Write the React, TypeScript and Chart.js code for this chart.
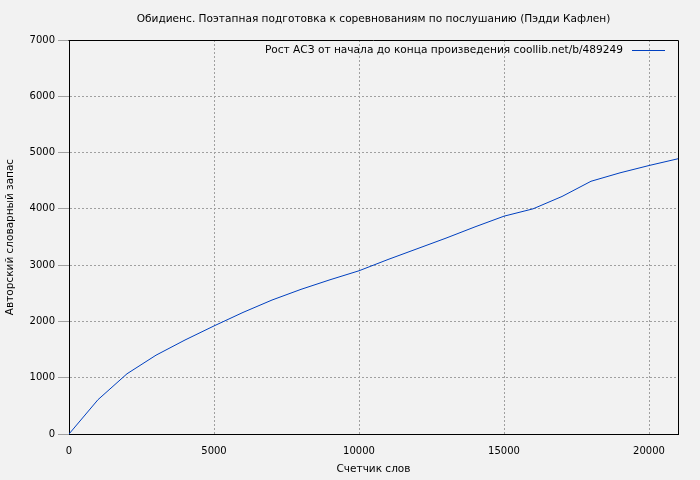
import React, { useEffect, useRef } from "react";
import { Chart, registerables } from "chart.js";

Chart.register(...registerables);

const TITLE = "Обидиенс. Поэтапная подготовка к соревнованиям по послушанию (Пэдди Кафлен)";
const LEGEND_LABEL = "Рост АСЗ от начала до конца произведения coollib.net/b/489249";
const X_TITLE = "Счетчик слов";
const Y_TITLE = "Авторский словарный запас";

const wordCounts = [0, 1000, 2000, 3000, 4000, 5000, 6000, 7000, 8000, 9000, 10000, 11000, 12000, 13000, 14000, 15000, 16000, 17000, 18000, 19000, 20000, 21000];
const vocabulary = [0, 610, 1070, 1400, 1670, 1920, 2160, 2380, 2570, 2740, 2900, 3100, 3290, 3480, 3680, 3870, 4000, 4220, 4490, 4640, 4770, 4890];

const xTickValues = [0, 5000, 10000, 15000, 20000];
const yTickValues = [0, 1000, 2000, 3000, 4000, 5000, 6000, 7000];

const X_MIN = 0;
const X_MAX = 21000;
const Y_MIN = 0;
const Y_MAX = 7000;

const LINE_COLOR = "#0040c0";
const FONT = "DejaVu Sans";

export default function App() {
  const ref = useRef<HTMLCanvasElement | null>(null);

  useEffect(() => {
    document.body.style.margin = "0";
    document.body.style.background = "#f2f2f2";
    const canvas = ref.current;
    if (!canvas) return;

    const decorPlugin = {
      id: "decor",
      beforeDraw(chart: any) {
        const ctx = chart.ctx;
        ctx.save();
        ctx.fillStyle = "#f2f2f2";
        ctx.fillRect(0, 0, chart.width, chart.height);
        ctx.restore();
      },
      afterDraw(chart: any) {
        const ctx = chart.ctx;
        const a = chart.chartArea;
        ctx.save();
        ctx.strokeStyle = "#000";
        ctx.lineWidth = 1;
        ctx.beginPath();
        ctx.moveTo(Math.round(a.left) - 0.5, Math.round(a.top) + 0.5);
        ctx.lineTo(Math.round(a.right) + 0.5, Math.round(a.top) + 0.5);
        ctx.lineTo(Math.round(a.right) + 0.5, Math.round(a.bottom));
        ctx.stroke();
        ctx.fillStyle = "#000";
        ctx.font = `10.6px "${FONT}"`;
        ctx.textAlign = "center";
        ctx.textBaseline = "middle";
        ctx.fillText(TITLE, (a.left + a.right) / 2, 19);
        const ly = Math.round(a.top) + 10.5;
        ctx.textAlign = "right";
        ctx.fillText(LEGEND_LABEL, a.right - 55, ly);
        ctx.strokeStyle = LINE_COLOR;
        ctx.beginPath();
        ctx.moveTo(a.right - 46, ly);
        ctx.lineTo(a.right - 13, ly);
        ctx.stroke();
        ctx.restore();
      },
    };

    const chart = new Chart(canvas, {
      type: "line",
      data: {
        datasets: [
          {
            label: LEGEND_LABEL,
            data: wordCounts.map((x, i) => ({ x, y: vocabulary[i] })),
            borderColor: LINE_COLOR,
            borderWidth: 1,
            pointRadius: 0,
            tension: 0,
            fill: false,
          },
        ],
      },
      plugins: [decorPlugin],
      options: {
        animation: false,
        responsive: false,
        devicePixelRatio: 1,
        layout: { padding: { left: 0, right: 22, top: 40, bottom: 0 } },
        plugins: {
          legend: { display: false },
          title: { display: false },
          tooltip: { enabled: false },
        },
        scales: {
          x: {
            type: "linear",
            min: X_MIN,
            max: X_MAX,
            afterBuildTicks(scale: any) {
              scale.ticks = xTickValues.map((v) => ({ value: v }));
            },
            ticks: {
              autoSkip: false,
              color: "#000",
              font: { family: FONT, size: 10 },
              padding: 11,
              maxRotation: 0,
              callback: (v: any) => String(v),
            },
            grid: {
              color: "#a0a0a0",
              drawTicks: false,
            },
            border: { display: true, color: "#000", width: 1, dash: [2, 2] },
            title: {
              display: true,
              text: X_TITLE,
              color: "#000",
              font: { family: FONT, size: 10.5 },
              padding: { top: 0, bottom: 4 },
            },
            afterFit(scale: any) {
              scale.height = 46;
            },
          },
          y: {
            type: "linear",
            min: Y_MIN,
            max: Y_MAX,
            afterBuildTicks(scale: any) {
              scale.ticks = yTickValues.map((v) => ({ value: v }));
            },
            ticks: {
              autoSkip: false,
              color: "#000",
              font: { family: FONT, size: 10 },
              padding: 3,
              callback: (v: any) => String(v),
            },
            grid: {
              color: "#a0a0a0",
              tickLength: 11,
              tickColor: "#a0a0a0",
            },
            border: { display: true, color: "#000", width: 1, dash: [2, 2] },
            title: {
              display: true,
              text: Y_TITLE,
              color: "#000",
              font: { family: FONT, size: 10.5 },
              padding: { top: 4, bottom: 0 },
            },
            afterFit(scale: any) {
              scale.width = 69;
            },
          },
        },
      } as any,
    });

    return () => chart.destroy();
  }, []);

  return (
    <div style={{ width: 700, height: 480, background: "#f2f2f2" }}>
      <canvas ref={ref} width={700} height={480} style={{ display: "block" }} />
    </div>
  );
}
